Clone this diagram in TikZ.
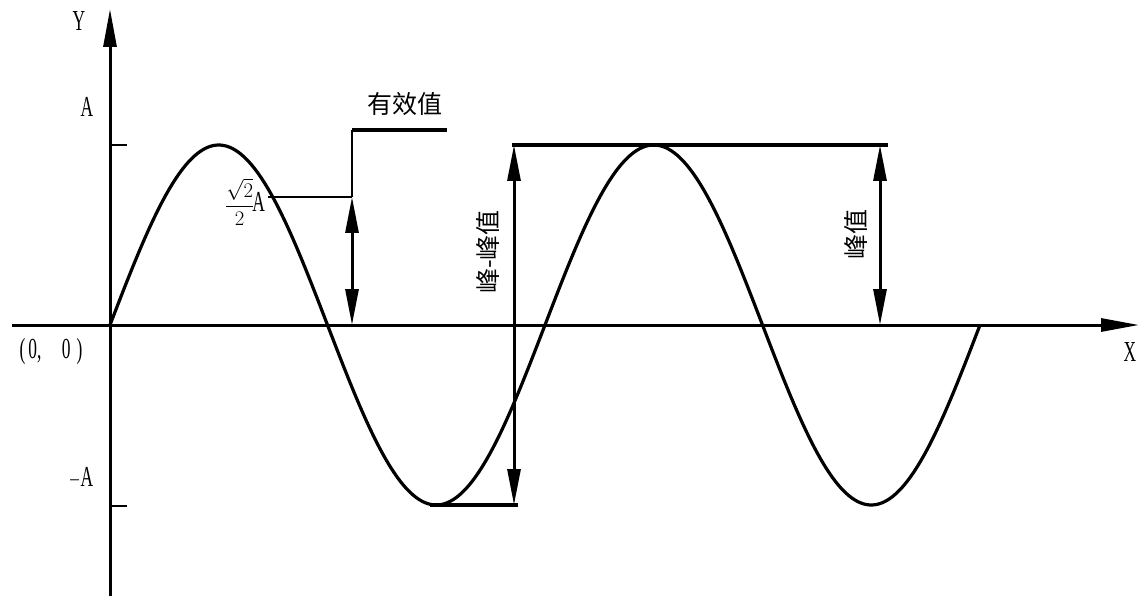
\documentclass[tikz,border=0pt]{standalone}
\usepackage{fontspec}
\setmainfont{Liberation Serif}
\newfontfamily\cjk{Noto Sans CJK SC}
\usetikzlibrary{arrows.meta}
\begin{document}
\begin{tikzpicture}[x=1pt,y=-1pt,
  axisline/.style={line width=3pt,-{Triangle[length=38pt,width=13pt]}},
  wave/.style={line width=3.2pt,line join=round},
  tick/.style={line width=2.5pt},
  guide/.style={line width=2pt},
  boldline/.style={line width=4pt},
  dim/.style={line width=3pt,{Triangle[length=36pt,width=13pt]}-{Triangle[length=36pt,width=13pt]}},
  lbl/.style={inner sep=0pt,font=\fontsize{29}{29}\selectfont,xscale=0.6},
  cjklbl/.style={inner sep=0pt,font=\cjk\fontsize{25}{25}\selectfont}]
\useasboundingbox (0,0) rectangle (1143,596);
% axes
\coordinate (ybot) at (110,596);
\coordinate (ytop) at (110,9);
\coordinate (xleft) at (12,325);
\coordinate (xright) at (1139,325);
\draw[axisline] (ybot) -- (ytop);
\draw[axisline] (xleft) -- (xright);
% ticks
\coordinate (tA0) at (110,145); \coordinate (tA1) at (127,145);
\coordinate (tB0) at (110,506); \coordinate (tB1) at (127,506);
\draw[tick] (tA0) -- (tA1);
\draw[tick] (tB0) -- (tB1);
% sine wave
\draw[wave] plot[domain=0:720,samples=300,smooth] ({110+\x/360*435},{325-180*sin(\x)});
% labels
\node[lbl] (ylab) at (79,21) {Y};
\node[lbl] (alab) at (87,107) {A};
\node[lbl] (malab) at (81,478) {$-$A};
\node[lbl] (olab) at (51,352) {(\,0,\hspace{34pt}0\hspace{10pt})};
\node[lbl] (xlab) at (1130,352) {X};
% effective value
\coordinate (rmsL) at (268,197);
\coordinate (rmsV) at (352,197);
\coordinate (rmsB) at (352,325);
\coordinate (rmsT) at (352,130);
\coordinate (rmsR) at (447,130);
\draw[guide] (rmsL) -- (rmsV);
\draw[guide] (rmsV) -- (rmsT);
\draw[boldline] (rmsT) -- (rmsR);
\draw[dim] (rmsV) -- (rmsB);
\node[inner sep=0pt,font=\fontsize{20}{20}\selectfont] (rmslab) at (245,202) {$\displaystyle\frac{\sqrt{2}}{2}$\kern-2pt{\fontsize{29}{29}\selectfont\scalebox{0.6}[1]{A}}};
\node[cjklbl] (yxz) at (405,104) {有效值};
% peak-to-peak
\coordinate (ppT0) at (512,145); \coordinate (ppT1) at (888,145);
\coordinate (ppB0) at (430,505); \coordinate (ppB1) at (518,505);
\coordinate (ppA) at (514,145); \coordinate (ppB) at (514,505);
\draw[boldline] (ppT0) -- (ppT1);
\draw[boldline] (ppB0) -- (ppB1);
\draw[dim] (ppA) -- (ppB);
\node[cjklbl,rotate=90] (pplab) at (488,252) {峰-峰值};
% peak
\coordinate (pkA) at (880,145); \coordinate (pkB) at (880,325);
\draw[dim] (pkA) -- (pkB);
\node[cjklbl,rotate=90] (pklab) at (856,234) {峰值};
\end{tikzpicture}
\end{document}
